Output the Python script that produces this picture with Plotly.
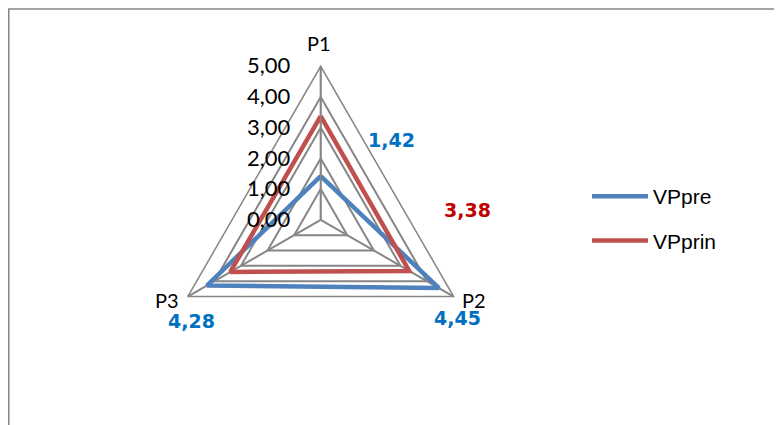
import plotly.graph_objects as go

categories = ["P1", "P2", "P3"]
vp_pre = [1.42, 4.45, 4.28]
vp_prin = [3.38, 3.33, 3.40]
series_names = ["VPpre", "VPprin"]
tick_vals = [0, 1, 2, 3, 4, 5]

# page has an 8px body margin; figure fills the rest of the 782x425 window
OFF = 8
W, H = 782 - OFF, 425 - OFF


def px(x):
    return (x - OFF) / W


def py(y):
    return 1 - (y - OFF) / H


cx, cy, R = 320.7, 219.8, 153.5

fig = go.Figure()
colors = ["#4F81BD", "#C0504D"]
for i, (name, vals) in enumerate(zip(series_names, [vp_pre, vp_prin])):
    fig.add_trace(go.Scatterpolar(
        r=vals + [vals[0]], theta=categories + [categories[0]],
        mode="lines", name=name, legendgroup=name,
        line=dict(color=colors[i], width=4.5),
    ))

label_specs = [
    (vp_pre[0], "#0070C0", 391, 140),
    (vp_prin[0], "#C00000", 467, 210),
    (vp_pre[1], "#0070C0", 457, 318),
    (vp_pre[2], "#0070C0", 191, 321),
]
annotations = []
for v, c, x, y in label_specs:
    annotations.append(dict(
        text=f"{v:.2f}".replace(".", ","), x=px(x), y=py(y),
        xref="paper", yref="paper", showarrow=False,
        font=dict(family="DejaVu Sans", size=19, color=c, weight="bold"),
        xanchor="center", yanchor="middle"))

# category labels placed like the original (beside each vertex)
cat_pos = [(319, 43), (474, 300), (167, 300)]
for cat, (x, y) in zip(categories, cat_pos):
    annotations.append(dict(
        text=cat, x=px(x), y=py(y), xref="paper", yref="paper", showarrow=False,
        font=dict(family="Lato, sans-serif", size=20, color="black"),
        xanchor="center", yanchor="middle"))

fig.update_layout(
    width=W, height=H, margin=dict(l=0, r=0, t=0, b=0),
    paper_bgcolor="white", plot_bgcolor="white",
    separators=",.",
    polar=dict(
        domain=dict(x=[px(cx - R), px(cx + R)], y=[py(cy + R), py(cy - R)]),
        bgcolor="white",
        gridshape="linear",
        angularaxis=dict(
            rotation=90, direction="clockwise",
            linecolor="#868686", linewidth=1.5,
            gridcolor="#868686", gridwidth=1.5,
            showticklabels=False, ticks="",
        ),
        radialaxis=dict(
            range=[0, 5], tickvals=tick_vals, tickformat=".2f",
            angle=90, side="counterclockwise", tickangle=90,
            showline=True, linecolor="#868686", linewidth=1.5,
            gridcolor="#868686", gridwidth=1.5,
            ticks="outside", ticklen=22, tickcolor="rgba(0,0,0,0)",
            tickfont=dict(family="Lato, sans-serif", size=22, color="black"),
        ),
    ),
    legend=dict(
        x=px(587), y=py(176), xanchor="left", yanchor="top",
        font=dict(family="Liberation Sans", size=21, color="black"),
        tracegroupgap=14, itemwidth=56, bgcolor="rgba(0,0,0,0)",
    ),
    annotations=annotations,
    shapes=[dict(type="rect", xref="paper", yref="paper",
                 x0=0.001, x1=1.05, y0=-0.05, y1=py(9),
                 line=dict(color="#868686", width=1.5), layer="below")],
)

fig.write_html("out.html")
